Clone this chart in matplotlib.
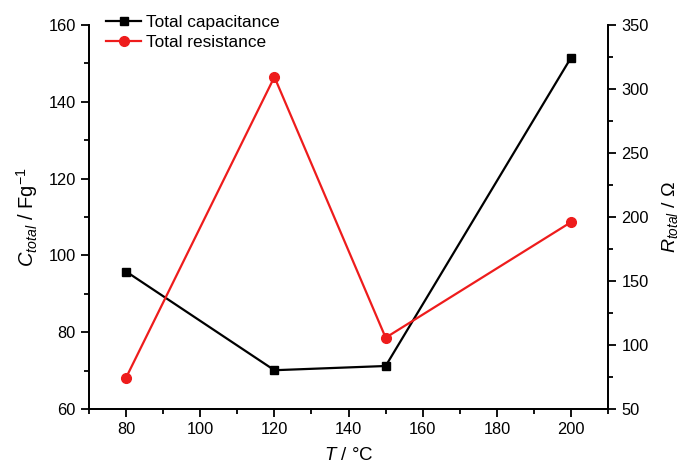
import matplotlib
matplotlib.use("Agg")
import matplotlib.pyplot as plt
from matplotlib.ticker import MultipleLocator

plt.rcParams['font.family'] = ['Liberation Sans', 'DejaVu Sans']
plt.rcParams['mathtext.fontset'] = 'custom'
plt.rcParams['mathtext.rm'] = 'Liberation Sans'
plt.rcParams['mathtext.it'] = 'Liberation Sans:italic'

# data
temps = [80, 120, 150, 200]
capacitance = [95.8, 70.1, 71.2, 151.5]
resistance = [74.5, 309.4, 105.7, 196.0]

fig = plt.figure(figsize=(6.81, 4.66), dpi=100)
ax = fig.add_axes([0.1307, 0.1223, 0.893 - 0.1307, 0.9464 - 0.1223])
ax2 = ax.twinx()

l1, = ax.plot(temps, capacitance, color='black', marker='s', markersize=6, lw=1.6,
              label='Total capacitance')
l2, = ax2.plot(temps, resistance, color='#ee1c1c', marker='o', markersize=7, lw=1.6,
               label='Total resistance')

ax.set_xlim(70, 210)
ax.set_ylim(60, 160)
ax2.set_ylim(50, 350)

ax.xaxis.set_major_locator(MultipleLocator(20))
ax.xaxis.set_minor_locator(MultipleLocator(10))
ax.yaxis.set_major_locator(MultipleLocator(20))
ax.yaxis.set_minor_locator(MultipleLocator(10))
ax2.yaxis.set_major_locator(MultipleLocator(50))
ax2.yaxis.set_minor_locator(MultipleLocator(25))

for a in (ax, ax2):
    a.spines['top'].set_visible(False)
    for s in a.spines.values():
        s.set_linewidth(1.3)
    a.tick_params(which='major', direction='out', length=6, width=1.3, labelsize=11.8)
    a.tick_params(which='minor', direction='out', length=3.5, width=1.3)

ax.set_xlabel('$T$ / °C', fontsize=13.5, labelpad=7)
ax.set_ylabel('$C_{total}$ / Fg$^{-1}$', fontsize=14.5, labelpad=6)
ax2.set_ylabel('$R_{total}$ / Ω', fontsize=14, labelpad=8)

fig.legend(handles=[l1, l2], loc='upper left', bbox_to_anchor=(0.146, 0.982),
           frameon=False, fontsize=12.4, handlelength=2.0, handletextpad=0.3,
           labelspacing=0.25, borderaxespad=0)

fig.savefig('out.png', dpi=100)
